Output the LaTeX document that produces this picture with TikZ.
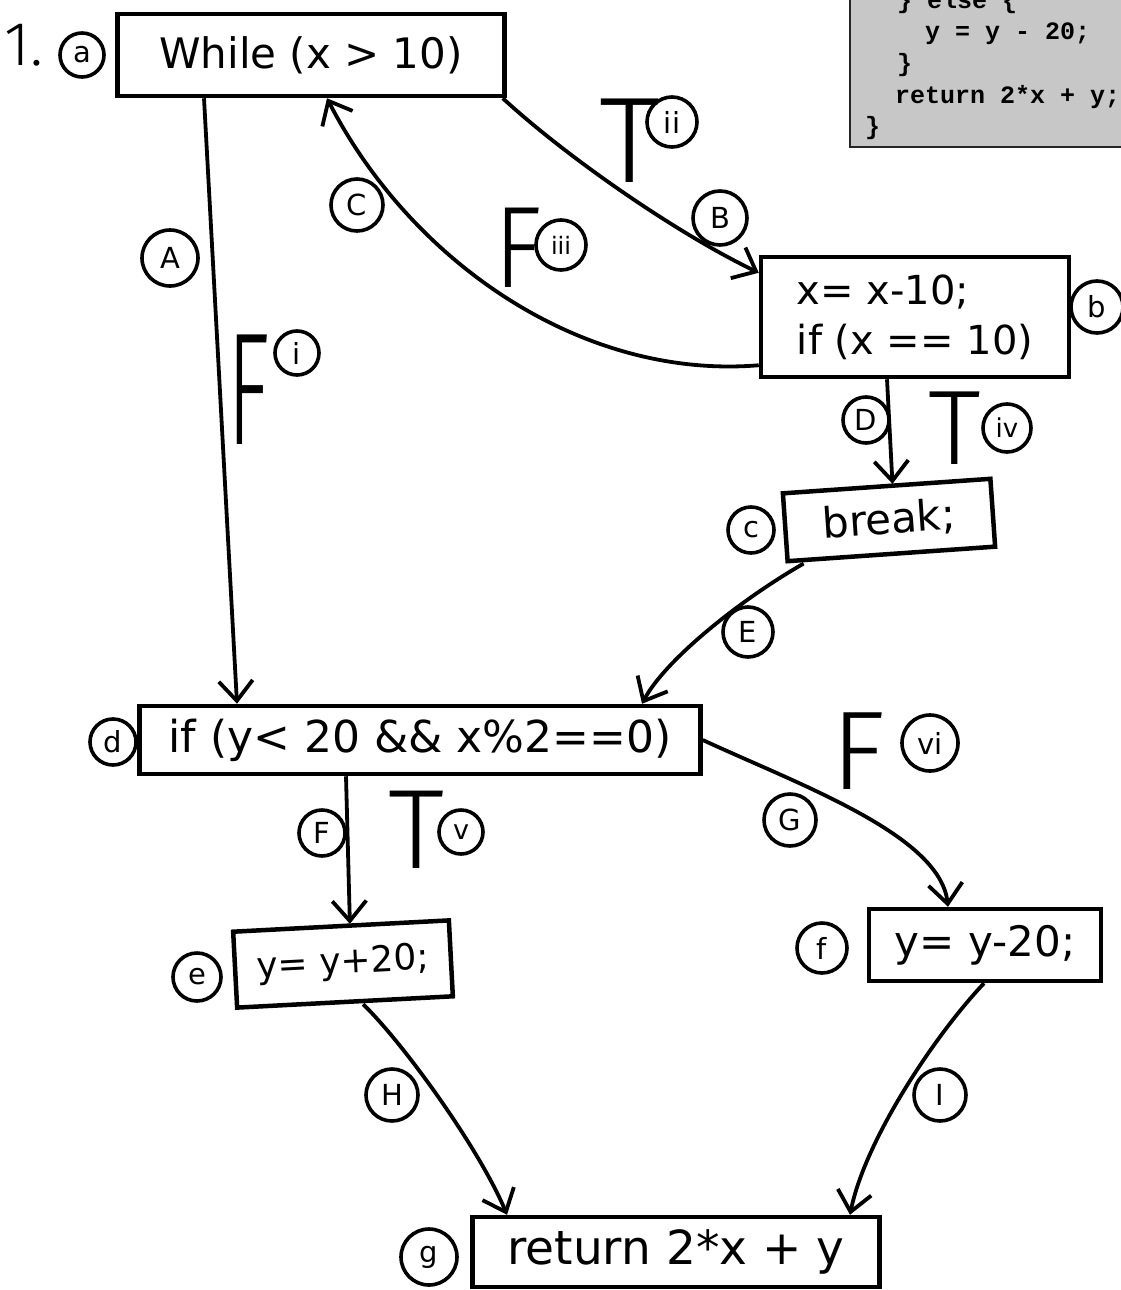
\documentclass[tikz,border=0pt]{standalone}
\usepackage{fontspec}
\setmainfont{DejaVu Sans}
\IfFontExistsTF{Fira Sans Light}{\newfontfamily\lightfont{Fira Sans Light}}{%
  \IfFontExistsTF{DejaVu Sans ExtraLight}{\newfontfamily\lightfont{DejaVu Sans ExtraLight}}{%
    \IfFontExistsTF{Open Sans Light}{\newfontfamily\lightfont{Open Sans Light}}{%
      \newfontfamily\lightfont{Liberation Sans}}}}
\newfontfamily\codefont{Liberation Mono}
\usetikzlibrary{arrows.meta,calc}
\begin{document}
\begin{tikzpicture}[x=1pt,y=-1pt,
  box/.style={draw, line width=4.5pt, inner sep=0pt, font=\fontsize{42}{50}\selectfont},
  tag/.style={draw, circle, line width=3.6pt, minimum size=50pt, inner sep=0pt, font=\fontsize{29}{29}\selectfont},
  big/.style={inner sep=0pt, font=\lightfont\fontsize{#1}{#1}\selectfont},
  edge/.style={line width=3.8pt, -{Straight Barb[length=20pt,width=34pt,line width=3.8pt]}},
  code/.style={anchor=base west, inner sep=0pt, font=\codefont\bfseries\fontsize{25}{30}\selectfont}
]
\useasboundingbox (0,0) rectangle (1121,1290);
\clip (0,0) rectangle (1121,1290);
\fill[white] (0,0) rectangle (1121,1290);

% code excerpt (cropped)
\fill[black!22] (850,-10) rectangle (1140,147);
\draw[line width=2.5pt, black!85] (850,-10) -- (850,147) -- (1140,147);
\node[code] (c1) at (897,9) {\} else \{};
\node[code] (c2) at (925,40) {y = y - 20;};
\node[code] (c3) at (897,71) {\}};
\node[code] (c4) at (895,103) {return 2*x + y;};
\node[code] (c5) at (865,134) {\}};

% boxes
\node[box, minimum width=387pt, minimum height=82pt] (a) at (311,55) {While (x > 10)};
\node[box, minimum width=308pt, minimum height=120pt, align=left, font=\fontsize{40}{50}\selectfont] (b) at (915,317) {x= x-10;\\if (x == 10)};
\node[box, rotate=4, minimum width=208pt, minimum height=68pt] (c) at (889,520) {break;};
\node[box, minimum width=561pt, minimum height=68pt, font=\fontsize{44}{50}\selectfont] (d) at (420,740) {if (y< 20 \&\& x\%2==0)};
\node[box, rotate=3, minimum width=216pt, minimum height=76pt, font=\fontsize{36}{40}\selectfont] (e) at (343,964) {y= y+20;};
\node[box, minimum width=232pt, minimum height=72pt] (f) at (985,945) {y= y-20;};
\node[box, minimum width=407pt, minimum height=70pt, font=\fontsize{47}{50}\selectfont] (g) at (676,1252) {return 2*x + y};

% node tags
\node[inner sep=0pt, font=\lightfont\fontsize{62}{62}\selectfont] (one) at (24,45) {1.};
\node[tag, minimum size=44pt] (ta) at (82,55) {a};
\node[tag, minimum size=52pt] (tb) at (1097,307) {b};
\node[tag, minimum size=46pt] (tc) at (751,530) {c};
\node[tag, minimum size=46pt] (td) at (113,742) {d};
\node[tag, minimum size=48pt] (te) at (197,977) {e};
\node[tag, minimum size=50pt] (tf) at (822,948) {f};
\node[tag, minimum size=56pt] (tg) at (429,1257) {g};

% edge tags
\node[tag, minimum size=56pt] (lA) at (170,258) {A};
\node[tag, minimum size=54pt] (lB) at (720,218) {B};
\node[tag, minimum size=52pt] (lC) at (357,205) {C};
\node[tag, minimum size=46pt] (lD) at (866,420) {D};
\node[tag, minimum size=50pt] (lE) at (748,632) {E};
\node[tag, minimum size=46pt] (lF) at (322,833) {F};
\node[tag, minimum size=52pt] (lG) at (790,820) {G};
\node[tag, minimum size=52pt] (lH) at (392,1095) {H};
\node[tag, minimum size=52pt] (lI) at (940,1095) {I};

% branch tags
\node[tag, minimum size=44pt] (ri) at (297,353) {i};
\node[tag, minimum size=50pt] (rii) at (672,122) {ii};
\node[tag, minimum size=50pt, font=\fontsize{24}{24}\selectfont] (riii) at (561,245) {iii};
\node[tag, minimum size=48pt, font=\fontsize{26}{26}\selectfont] (riv) at (1007,428) {iv};
\node[tag, minimum size=44pt, font=\fontsize{27}{27}\selectfont] (rv) at (461,832) {v};
\node[tag, minimum size=56pt] (rvi) at (930,743) {vi};

\node[big=160] (Fi) at (249,390) {\scalebox{0.55}[1]{F}};
\node[big=122] (Tii) at (630,141) {T};
\node[big=116] (Fiii) at (518,248) {\scalebox{0.85}[1]{F}};
\node[big=106] (Tiv) at (955,428) {T};
\node[big=113] (Tv) at (416,830) {T};
\node[big=112] (Fvi) at (858,751) {F};

% connectors
\draw[edge] ([xshift=-107pt]a.south) -- ([xshift=-183pt]d.north);
\draw[edge] ([xshift=-4pt]a.south east) .. controls (570,160) and (680,235) .. ([yshift=-18pt]b.north west);
\draw[edge] ([yshift=14pt]b.south west) .. controls (580,380) and (410,260) .. ([xshift=16pt]a.south);
\draw[edge] ([xshift=-28pt]b.south) -- ([xshift=6pt]c.north);
\draw[edge] ([xshift=18pt]c.south west) .. controls (740,600) and (665,660) .. ([xshift=222pt]d.north);
\draw[edge] ([xshift=-74pt]d.south) -- ([xshift=9pt]e.north);
\draw[edge] (d.east) .. controls (800,785) and (940,835) .. ([xshift=-37pt]f.north);
\draw[edge] ([xshift=18pt]e.south) .. controls (405,1045) and (480,1150) .. ([xshift=-169pt]g.north);
\draw[edge] ([xshift=-1pt]f.south) .. controls (935,1035) and (865,1140) .. ([xshift=174pt]g.north);
\end{tikzpicture}
\end{document}
